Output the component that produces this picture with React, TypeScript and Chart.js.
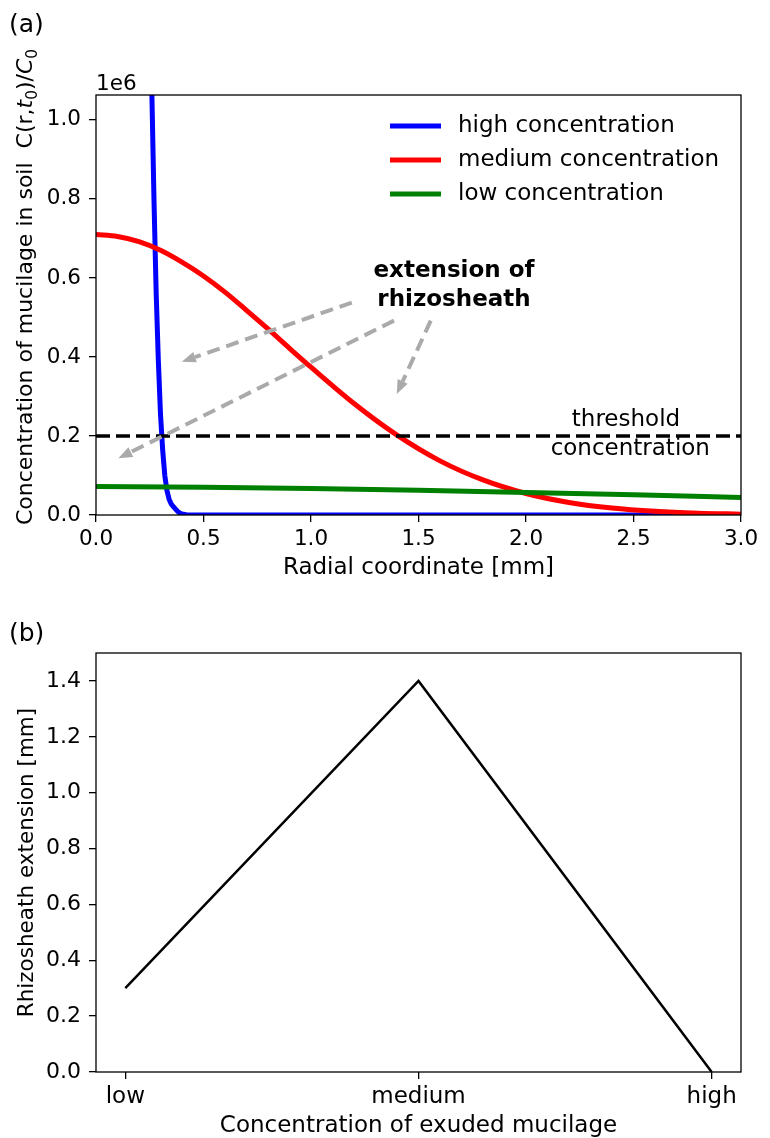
import React, { useEffect, useRef } from "react";
import { Chart, registerables } from "chart.js";
Chart.register(...registerables);

const FONT = "'DejaVu Sans', sans-serif";

// ---------- Panel (a) data ----------
const X_TICKS_A = [0, 0.5, 1.0, 1.5, 2.0, 2.5, 3.0];
const Y_TICKS_A = [0, 0.2, 0.4, 0.6, 0.8, 1.0];
const X_MAX_A = 3.0;
const Y_MAX_A = 1.063; // in units of 1e6
const SERIES_LABELS = ["high concentration", "medium concentration", "low concentration"];

const R_HIGH = [0.22, 0.24, 0.25, 0.26, 0.27, 0.28, 0.29, 0.30, 0.31, 0.32, 0.33, 0.34, 0.35, 0.36, 0.37, 0.38, 0.39, 0.40, 0.42, 0.45, 0.5, 1.0, 2.0, 3.0];
const C_HIGH = [3.0, 1.8, 1.4, 1.063, 0.79, 0.56, 0.39, 0.255, 0.165, 0.1, 0.062, 0.04, 0.028, 0.021, 0.015, 0.009, 0.005, 0.0025, 0.0008, 0.0002, 0, 0, 0, 0];

const R_MED = [0, 0.1, 0.2, 0.3, 0.4, 0.5, 0.6, 0.7, 0.8, 0.9, 1.0, 1.2, 1.4, 1.6, 1.8, 2.0, 2.2, 2.4, 2.6, 2.8, 3.0];
const C_MED = [0.71, 0.705, 0.692, 0.67, 0.64, 0.605, 0.564, 0.518, 0.471, 0.422, 0.374, 0.282, 0.202, 0.137, 0.0887, 0.0545, 0.0318, 0.0176, 0.0093, 0.0046, 0.0022];

const R_LOW = [0, 0.5, 1.0, 1.5, 2.0, 2.5, 3.0];
const C_LOW = [0.072, 0.0705, 0.067, 0.0625, 0.057, 0.051, 0.0445];

const THRESHOLD = 0.2;
const THRESHOLD_LABEL = ["threshold", "concentration"];
const THRESHOLD_LABEL_POS = [[2.465, 0.24], [2.485, 0.167]];
const NOTE_LABEL = ["extension of", "rhizosheath"];
const NOTE_LABEL_POS = [[1.665, 0.618], [1.665, 0.544]];
const ARROW_FROM = [[1.19, 0.5375], [1.386, 0.492], [1.557, 0.492]];
const ARROW_TO = [[0.399, 0.388], [0.104, 0.1435], [1.399, 0.306]];

// ---------- Panel (b) data ----------
const CATEGORIES = ["low", "medium", "high"];
const EXTENSION = [0.3, 1.4, 0.0];
const Y_TICKS_B = [0, 0.2, 0.4, 0.6, 0.8, 1.0, 1.2, 1.4];
const Y_MAX_B = 1.5;

const COLORS = ["#0000ff", "#ff0000", "#008000"];

function pts(xs: number[], ys: number[]) {
  return xs.map((x, i) => ({ x, y: ys[i] }));
}

function fixSize(size: number) {
  return (scale: any) => {
    if (scale.isHorizontal()) scale.height = size;
    else scale.width = size;
  };
}

function drawBox(chart: any) {
  const { ctx, chartArea: a } = chart;
  ctx.save();
  ctx.strokeStyle = "#000";
  ctx.lineWidth = 1.3;
  ctx.strokeRect(a.left, a.top, a.right - a.left, a.bottom - a.top);
  ctx.restore();
}

function text(ctx: any, t: string, x: number, y: number, font: string, align = "center", baseline = "middle") {
  ctx.save();
  ctx.font = font;
  ctx.fillStyle = "#000";
  ctx.textAlign = align;
  ctx.textBaseline = baseline;
  ctx.fillText(t, x, y);
  ctx.restore();
}

function rotatedRuns(ctx: any, runs: any[], cx: number, cy: number) {
  ctx.save();
  let total = 0;
  for (const r of runs) {
    ctx.font = r.font;
    total += ctx.measureText(r.t).width;
  }
  ctx.translate(cx, cy);
  ctx.rotate(-Math.PI / 2);
  ctx.fillStyle = "#000";
  ctx.textBaseline = "alphabetic";
  ctx.textAlign = "left";
  let x = -total / 2;
  for (const r of runs) {
    ctx.font = r.font;
    ctx.fillText(r.t, x, r.dy || 0);
    x += ctx.measureText(r.t).width;
  }
  ctx.restore();
}

function drawArrow(ctx: any, x1: number, y1: number, x2: number, y2: number) {
  const dx = x2 - x1, dy = y2 - y1;
  const len = Math.hypot(dx, dy);
  const ux = dx / len, uy = dy / len;
  const headLen = 14, headW = 5.5;
  const bx = x2 - ux * headLen, by = y2 - uy * headLen;
  ctx.save();
  ctx.strokeStyle = "#aaaaaa";
  ctx.fillStyle = "#aaaaaa";
  ctx.lineWidth = 4;
  ctx.setLineDash([13, 7]);
  ctx.beginPath();
  ctx.moveTo(x1, y1);
  ctx.lineTo(bx, by);
  ctx.stroke();
  ctx.setLineDash([]);
  ctx.beginPath();
  ctx.moveTo(x2, y2);
  ctx.lineTo(bx - uy * headW, by + ux * headW);
  ctx.lineTo(bx + uy * headW, by - ux * headW);
  ctx.closePath();
  ctx.fill();
  ctx.restore();
}

const panelAPlugin = {
  id: "panelA",
  afterDraw(chart: any) {
    const { ctx, scales } = chart;
    const xs = scales.x, ys = scales.y;
    const px = (v: number) => xs.getPixelForValue(v);
    const py = (v: number) => ys.getPixelForValue(v);

    THRESHOLD_LABEL.forEach((t, i) =>
      text(ctx, t, px(THRESHOLD_LABEL_POS[i][0]), py(THRESHOLD_LABEL_POS[i][1]), `23px ${FONT}`)
    );
    NOTE_LABEL.forEach((t, i) =>
      text(ctx, t, px(NOTE_LABEL_POS[i][0]), py(NOTE_LABEL_POS[i][1]), `bold 23px ${FONT}`)
    );
    ARROW_FROM.forEach((f, i) =>
      drawArrow(ctx, px(f[0]), py(f[1]), px(ARROW_TO[i][0]), py(ARROW_TO[i][1]))
    );

    // legend
    const ds = chart.data.datasets.filter((d: any) => d.label);
    ds.forEach((d: any, i: number) => {
      const y = 126 + i * 34;
      ctx.save();
      ctx.strokeStyle = d.borderColor;
      ctx.lineWidth = 5;
      ctx.beginPath();
      ctx.moveTo(390, y);
      ctx.lineTo(441, y);
      ctx.stroke();
      ctx.restore();
      text(ctx, d.label, 458, y, `23px ${FONT}`, "left", "middle");
    });

    drawBox(chart);

    text(ctx, "1e6", chart.chartArea.left, chart.chartArea.top - 5, `21.5px ${FONT}`, "left", "alphabetic");
    text(ctx, "Radial coordinate [mm]", (chart.chartArea.left + chart.chartArea.right) / 2, 568, `23px ${FONT}`);
    text(ctx, "(a)", 9, 25, `25px ${FONT}`, "left", "middle");
    const n = `22px ${FONT}`, it = `italic 22px ${FONT}`, sub = `15.4px ${FONT}`;
    rotatedRuns(ctx, [
      { t: "Concentration of mucilage in soil  C(r,", font: n },
      { t: "t", font: it },
      { t: "0", font: sub, dy: 4.7 },
      { t: ")/", font: n },
      { t: "C", font: it },
      { t: "0", font: sub, dy: 4.7 },
    ], 32, 287);
  },
};

const panelBPlugin = {
  id: "panelB",
  afterDraw(chart: any) {
    const { ctx } = chart;
    drawBox(chart);
    text(ctx, "Concentration of exuded mucilage", (chart.chartArea.left + chart.chartArea.right) / 2, 526, `23px ${FONT}`);
    text(ctx, "(b)", 9, 34, `25px ${FONT}`, "left", "middle");
    rotatedRuns(ctx, [{ t: "Rhizosheath extension [mm]", font: `21.5px ${FONT}` }], 33, (chart.chartArea.top + chart.chartArea.bottom) / 2);
  },
};

const gridOpts = { drawOnChartArea: false, drawTicks: true, tickLength: 7, tickColor: "#000", tickWidth: 1.3, color: "#000", lineWidth: 1.3 };

export default function App() {
  const refA = useRef<HTMLCanvasElement>(null);
  const refB = useRef<HTMLCanvasElement>(null);

  useEffect(() => {
    const chartA = new Chart(refA.current as HTMLCanvasElement, {
      type: "line",
      data: {
        datasets: [
          { label: SERIES_LABELS[0], data: pts(R_HIGH, C_HIGH), borderColor: COLORS[0], borderWidth: 5, pointRadius: 0, tension: 0, order: 3 },
          { label: SERIES_LABELS[1], data: pts(R_MED, C_MED), borderColor: COLORS[1], borderWidth: 5, pointRadius: 0, cubicInterpolationMode: "monotone", order: 2 },
          { label: SERIES_LABELS[2], data: pts(R_LOW, C_LOW), borderColor: COLORS[2], borderWidth: 5, pointRadius: 0, cubicInterpolationMode: "monotone", order: 1 },
          { label: "", data: [{ x: 0, y: THRESHOLD }, { x: X_MAX_A, y: THRESHOLD }], borderColor: "#000", borderWidth: 3.5, borderDash: [14, 6], pointRadius: 0, order: 0 },
        ],
      } as any,
      options: {
        responsive: false,
        animation: false,
        devicePixelRatio: 1,
        layout: { padding: { left: 0, right: 29, top: 95, bottom: 25 } },
        plugins: { legend: { display: false }, tooltip: { enabled: false } },
        scales: {
          x: {
            type: "linear", min: 0, max: X_MAX_A,
            afterFit: fixSize(60),
            afterBuildTicks: (s: any) => { s.ticks = X_TICKS_A.map((v) => ({ value: v })); },
            ticks: { font: { family: FONT, size: 21.5 }, color: "#000", padding: 5, maxRotation: 0, autoSkip: false, callback: (v: any) => Number(v).toFixed(1) },
            grid: gridOpts, border: { display: false },
          },
          y: {
            type: "linear", min: 0, max: Y_MAX_A,
            afterFit: fixSize(96),
            afterBuildTicks: (s: any) => { s.ticks = Y_TICKS_A.map((v) => ({ value: v })); },
            ticks: { font: { family: FONT, size: 21.5 }, color: "#000", padding: 8, autoSkip: false, callback: (v: any) => Number(v).toFixed(1) },
            grid: gridOpts, border: { display: false },
          },
        },
      } as any,
      plugins: [panelAPlugin],
    });

    const chartB = new Chart(refB.current as HTMLCanvasElement, {
      type: "line",
      data: {
        datasets: [
          { label: "", data: EXTENSION.map((v, i) => ({ x: i, y: v })), borderColor: "#000", borderWidth: 2.5, pointRadius: 0, tension: 0 },
        ],
      } as any,
      options: {
        responsive: false,
        animation: false,
        devicePixelRatio: 1,
        layout: { padding: { left: 0, right: 29, top: 53, bottom: 16 } },
        plugins: { legend: { display: false }, tooltip: { enabled: false } },
        scales: {
          x: {
            type: "linear", min: -0.1, max: CATEGORIES.length - 1 + 0.1,
            afterFit: fixSize(50),
            afterBuildTicks: (s: any) => { s.ticks = CATEGORIES.map((_, i) => ({ value: i })); },
            ticks: { font: { family: FONT, size: 23 }, color: "#000", padding: 4, maxRotation: 0, autoSkip: false, callback: (v: any) => CATEGORIES[Math.round(Number(v))] },
            grid: gridOpts, border: { display: false },
          },
          y: {
            type: "linear", min: 0, max: Y_MAX_B,
            afterFit: fixSize(96),
            afterBuildTicks: (s: any) => { s.ticks = Y_TICKS_B.map((v) => ({ value: v })); },
            ticks: { font: { family: FONT, size: 22 }, color: "#000", padding: 8, autoSkip: false, callback: (v: any) => Number(v).toFixed(1) },
            grid: gridOpts, border: { display: false },
          },
        },
      } as any,
      plugins: [panelBPlugin],
    });

    return () => {
      chartA.destroy();
      chartB.destroy();
    };
  }, []);

  return (
    <div style={{ position: "absolute", left: 0, top: 0, width: 770, height: 1138, background: "#fff" }}>
      <canvas ref={refA} width={770} height={600} style={{ position: "absolute", left: 0, top: 0, width: 770, height: 600 }} />
      <canvas ref={refB} width={770} height={538} style={{ position: "absolute", left: 0, top: 600, width: 770, height: 538 }} />
    </div>
  );
}
